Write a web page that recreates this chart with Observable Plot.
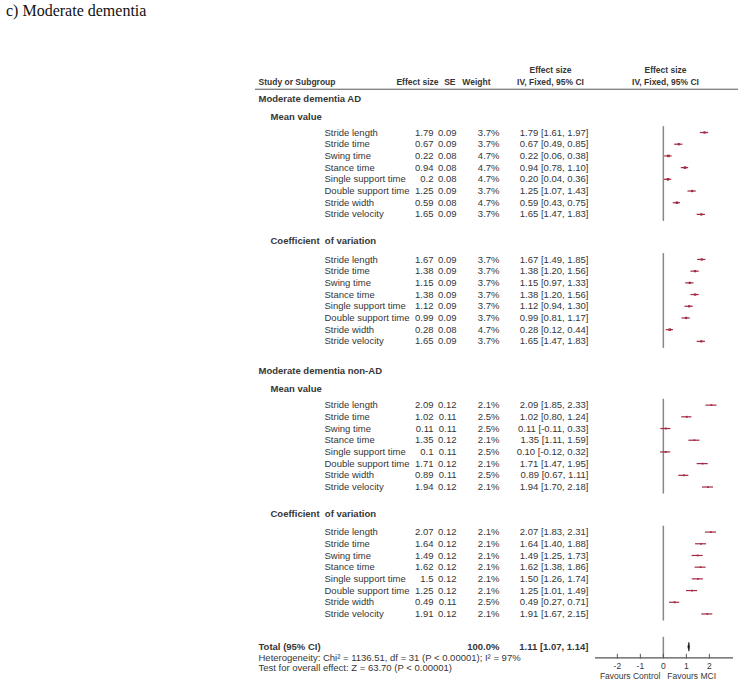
<!DOCTYPE html>
<html><head><meta charset="utf-8">
<script src="https://cdn.jsdelivr.net/npm/d3@7"></script>
<script src="https://cdn.jsdelivr.net/npm/@observablehq/plot@0.6"></script>
<style>
body{margin:0;background:#fff;}
#title{font-family:"Liberation Serif","Times New Roman",serif;font-size:16px;line-height:16px;height:24px;box-sizing:border-box;padding:3px 0 0 6px;color:#111;}
</style></head><body>
<div id="title">c) Moderate dementia</div>
<div id="chart"></div>
<script>
// ---------- data ----------
const groupNames = ["Moderate dementia AD", "Moderate dementia non-AD"];
const subgroupNames = ["Mean value", "Coefficient\u00a0 of variation"];
const params = ["Stride length","Stride time","Swing time","Stance time","Single support time","Double support time","Stride width","Stride velocity"];

const adMeanES = [1.79,0.67,0.22,0.94,0.2,1.25,0.59,1.65];
const adMeanSE = [0.09,0.09,0.08,0.08,0.08,0.09,0.08,0.09];
const adMeanW  = [3.7,3.7,4.7,4.7,4.7,3.7,4.7,3.7];
const adMeanLo = [1.61,0.49,0.06,0.78,0.04,1.07,0.43,1.47];
const adMeanHi = [1.97,0.85,0.38,1.10,0.36,1.43,0.75,1.83];

const adCvES = [1.67,1.38,1.15,1.38,1.12,0.99,0.28,1.65];
const adCvSE = [0.09,0.09,0.09,0.09,0.09,0.09,0.08,0.09];
const adCvW  = [3.7,3.7,3.7,3.7,3.7,3.7,4.7,3.7];
const adCvLo = [1.49,1.20,0.97,1.20,0.94,0.81,0.12,1.47];
const adCvHi = [1.85,1.56,1.33,1.56,1.30,1.17,0.44,1.83];

const nonMeanES = [2.09,1.02,0.11,1.35,0.1,1.71,0.89,1.94];
const nonMeanSE = [0.12,0.11,0.11,0.12,0.11,0.12,0.11,0.12];
const nonMeanW  = [2.1,2.5,2.5,2.1,2.5,2.1,2.5,2.1];
const nonMeanLo = [1.85,0.80,-0.11,1.11,-0.12,1.47,0.67,1.70];
const nonMeanHi = [2.33,1.24,0.33,1.59,0.32,1.95,1.11,2.18];

const nonCvES = [2.07,1.64,1.49,1.62,1.5,1.25,0.49,1.91];
const nonCvSE = [0.12,0.12,0.12,0.12,0.12,0.12,0.11,0.12];
const nonCvW  = [2.1,2.1,2.1,2.1,2.1,2.1,2.5,2.1];
const nonCvLo = [1.83,1.40,1.25,1.38,1.26,1.01,0.27,1.67];
const nonCvHi = [2.31,1.88,1.73,1.86,1.74,1.49,0.71,2.15];

const totalES = 1.11, totalLo = 1.07, totalHi = 1.14, totalW = "100.0%";
const totalLabel = "Total (95% CI)";
const hetText = "Heterogeneity: Chi\u00b2 = 1136.51, df = 31 (P < 0.00001); I\u00b2 = 97%";
const testText = "Test for overall effect: Z = 63.70 (P < 0.00001)";
const xTicks = [-2,-1,0,1,2];
const favLeft = "Favours Control", favRight = "Favours MCI";

// ---------- layout ----------
const W = 745, H = 664;
const xDomain = [-2.95, 3.05], xRange = [595, 733];
const rowPx = 11.7, yTop = 46, yMax = 52;
const col = {left:255, right:738, group:258, sub:270, label:324, es:433, se:456, w:499, ci:588, ciHead:550, plotHead:665,
             esHead:438, seHead:455, wHead:490};
const dxOf = c => c - col.left;
const ink = "#363636", red = "#a32a44";
const fs = 9.5, hfs = 8.5, gfs = 9.5;

const blocks = [
  {es:adMeanES, se:adMeanSE, w:adMeanW, lo:adMeanLo, hi:adMeanHi},
  {es:adCvES, se:adCvSE, w:adCvW, lo:adCvLo, hi:adCvHi},
  {es:nonMeanES, se:nonMeanSE, w:nonMeanW, lo:nonMeanLo, hi:nonMeanHi},
  {es:nonCvES, se:nonCvSE, w:nonCvW, lo:nonCvLo, hi:nonCvHi}
];
const gap = {firstGroup:2.4, groupToSub:1.55, subToRow:[1.35, 1.55], rowToSub:2.3, rowToGroup:2.55, rowToTotal:2.8};
let u = gap.firstGroup;
const headings = [], studies = [], zeroSegs = [];
groupNames.forEach((g, gi) => {
  if (gi > 0) u += gap.rowToGroup;
  headings.push({text:g, u, level:0});
  subgroupNames.forEach((s, si) => {
    u += si === 0 ? gap.groupToSub : gap.rowToSub;
    headings.push({text:s, u, level:1});
    u += gap.subToRow[si];
    const b = blocks[gi*2 + si];
    const start = u;
    params.forEach((p, i) => {
      if (i > 0) u += 1;
      studies.push({label:p, u, es:b.es[i], se:b.se[i], w:b.w[i], lo:b.lo[i], hi:b.hi[i],
        esT:String(b.es[i]), seT:b.se[i].toFixed(2), wT:b.w[i].toFixed(1)+"%",
        ciT:`${b.es[i].toFixed(2)} [${b.lo[i].toFixed(2)}, ${b.hi[i].toFixed(2)}]`});
    });
    zeroSegs.push({x:0, u1:start-0.5, u2:u+0.6});
  });
});
u += gap.rowToTotal;
const totalU = u, axisU = u + 0.95, hetU = u + 0.95, testU = u + 1.85, tickLabU = axisU + 0.72, favU = axisU + 1.6;
zeroSegs.push({x:0, u1:totalU-0.8, u2:axisU});
const diamond = [
  {x:totalLo, u:totalU}, {x:totalES, u:totalU-0.38}, {x:totalHi, u:totalU}, {x:totalES, u:totalU+0.38}, {x:totalLo, u:totalU}
];

const txt = (data, opts) => Plot.text(data, {frameAnchor:"left", fill:ink, fontSize:fs, ...opts});
const head = (uu, label, at, anchor) => txt([{u:uu}], {y:"u", text:() => label, dx:dxOf(at), textAnchor:anchor, fontWeight:"bold", fontSize:hfs});

const chart = Plot.plot({
  width: W, height: H,
  marginLeft: col.left, marginRight: W - col.right, marginTop: 0, marginBottom: 0,
  x: {domain: xDomain, range: xRange, axis: null},
  y: {domain: [0, yMax], range: [yTop, yTop + yMax*rowPx], axis: null},
  r: {type:"sqrt", domain:[0,5], range:[0,1.5]},
  style: {fontFamily: "'Liberation Sans', Arial, sans-serif", background: "#fff"},
  marks: [
    // header
    head(0, "Effect size", col.ciHead, "middle"),
    head(0, "Effect size", col.plotHead, "middle"),
    head(1, "Study or Subgroup", col.group, "start"),
    head(1, "Effect size", col.esHead, "end"),
    head(1, "SE", col.seHead, "end"),
    head(1, "Weight", col.wHead, "end"),
    head(1, "IV, Fixed, 95% CI", col.ciHead, "middle"),
    head(1, "IV, Fixed, 95% CI", col.plotHead, "middle"),
    Plot.ruleY([1.6], {stroke:"#555", strokeWidth:1}),
    // headings
    txt(headings.filter(d => d.level === 0), {y:"u", text:"text", dx:dxOf(col.group), textAnchor:"start", fontWeight:"bold", fontSize:gfs}),
    txt(headings.filter(d => d.level === 1), {y:"u", text:"text", dx:dxOf(col.sub), textAnchor:"start", fontWeight:"bold", fontSize:gfs}),
    // study rows
    txt(studies, {y:"u", text:"label", dx:dxOf(col.label), textAnchor:"start"}),
    txt(studies, {y:"u", text:"esT", dx:dxOf(col.es), textAnchor:"end"}),
    txt(studies, {y:"u", text:"seT", dx:dxOf(col.se), textAnchor:"end"}),
    txt(studies, {y:"u", text:"wT", dx:dxOf(col.w), textAnchor:"end"}),
    txt(studies, {y:"u", text:"ciT", dx:dxOf(col.ci), textAnchor:"end"}),
    // forest
    Plot.ruleX(zeroSegs, {x:"x", y1:"u1", y2:"u2", stroke:"#888", strokeWidth:1.5}),
    Plot.ruleY(studies, {y:"u", x1:"lo", x2:"hi", stroke:red, strokeWidth:1.2}),
    Plot.dot(studies, {x:"es", y:"u", r:"w", symbol:"square", fill:red, stroke:"none"}),
    // total
    txt([{u:totalU}], {y:"u", text:() => totalLabel, dx:dxOf(col.group), textAnchor:"start", fontWeight:"bold", fontSize:gfs}),
    txt([{u:totalU}], {y:"u", text:() => totalW, dx:dxOf(col.w), textAnchor:"end", fontWeight:"bold", fontSize:gfs}),
    txt([{u:totalU}], {y:"u", text:() => `${totalES.toFixed(2)} [${totalLo.toFixed(2)}, ${totalHi.toFixed(2)}]`, dx:dxOf(col.ci), textAnchor:"end", fontWeight:"bold", fontSize:gfs}),
    Plot.line(diamond, {x:"x", y:"u", stroke:"#111", fill:"#111", strokeWidth:0.6}),
    txt([{u:hetU}], {y:"u", text:() => hetText, dx:dxOf(col.group), textAnchor:"start", fontSize:9.5}),
    txt([{u:testU}], {y:"u", text:() => testText, dx:dxOf(col.group), textAnchor:"start", fontSize:9.5}),
    // axis
    Plot.ruleY([axisU], {x1:xDomain[0], x2:xDomain[1], stroke:"#555", strokeWidth:1.2}),
    Plot.ruleX(xTicks, {x:d => d, y1:axisU-0.3, y2:axisU+0.1, stroke:"#555", strokeWidth:1}),
    Plot.text(xTicks, {x:d => d, y:tickLabU, text:d => String(d), fill:ink, fontSize:8.5}),
    Plot.text([favLeft], {x:0, y:favU, text:d => d, textAnchor:"end", dx:-3, fill:ink, fontSize:8.5}),
    Plot.text([favRight], {x:0, y:favU, text:d => d, textAnchor:"start", dx:4, fill:ink, fontSize:8.5})
  ]
});
document.getElementById("chart").appendChild(chart);
</script></body></html>
